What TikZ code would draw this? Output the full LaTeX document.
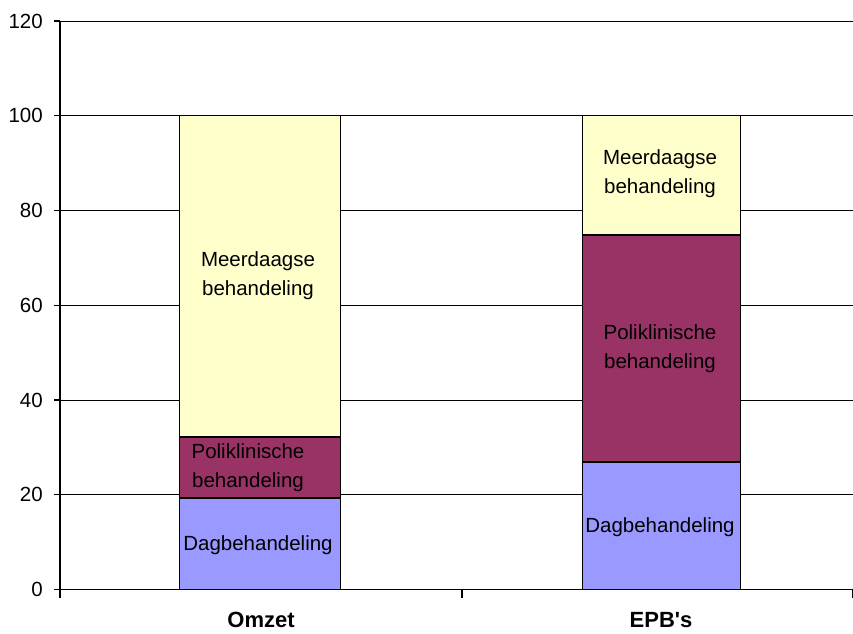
\documentclass[tikz,border=0pt]{standalone}
\usepackage{fontspec}
\setmainfont{Liberation Sans}
\begin{document}
\begin{tikzpicture}[x=1pt,y=1pt,
  grid/.style={black, line width=0.9pt},
  axisline/.style={black, line width=1.1pt},
  seg/.style={draw=black, line width=0.9pt},
  sep/.style={black, line width=2.2pt},
  ticklab/.style={anchor=east, font=\fontsize{20.5}{22}\selectfont, inner sep=0pt},
  barlab/.style={align=center, font=\fontsize{20.5}{29}\selectfont, inner sep=0pt},
  catlab/.style={anchor=base, font=\bfseries\fontsize{22}{24}\selectfont, inner sep=0pt}]
\definecolor{dagc}{HTML}{9999FF}
\definecolor{polic}{HTML}{993366}
\definecolor{meerc}{HTML}{FFFFCC}
\useasboundingbox (0,0) rectangle (853,633);
\begin{scope}[yshift=43.5pt, y=4.7375pt]
  % gridlines
  \foreach \v in {20,40,...,120} { \draw[grid] (60,\v) -- (853,\v); }
  % Omzet bar
  \fill[dagc]  (179,0) rectangle (340,19.3);
  \fill[polic] (179,19.3) rectangle (340,32.2);
  \fill[meerc] (179,32.2) rectangle (340,100);
  \draw[seg] (179,0) rectangle (340,100);
  \draw[sep] (179,19.3) -- (340,19.3);
  \draw[sep] (179,32.2) -- (340,32.2);
  % EPB bar
  \fill[dagc]  (582,0) rectangle (740,26.9);
  \fill[polic] (582,26.9) rectangle (740,74.8);
  \fill[meerc] (582,74.8) rectangle (740,100);
  \draw[seg] (582,0) rectangle (740,100);
  \draw[sep] (582,26.9) -- (740,26.9);
  \draw[sep] (582,74.8) -- (740,74.8);
  % axes
  \draw[axisline] (60,0) -- (60,120);
  \draw[axisline] (60,0) -- (853,0);
  \foreach \v in {0,20,...,120} {
    \draw[axisline] (54,\v) -- (60,\v);
    \node[ticklab] (t\v) at (43,\v) {\v};
  }
  \foreach \xx in {60,462,852.5} { \draw[axisline] (\xx,0) -- (\xx,-1.7); }
\end{scope}
% bar labels (y = 633 - pixel)
\node[barlab] (om) at (258,357) {Meerdaagse\\behandeling};
\node[barlab] (op) at (248,165) {Poliklinische\\behandeling};
\node[barlab] (od) at (258,88) {Dagbehandeling};
\node[barlab] (em) at (660,459) {Meerdaagse\\behandeling};
\node[barlab] (ep) at (660,284.5) {Poliklinische\\behandeling};
\node[barlab] (ed) at (660,106) {Dagbehandeling};
% category labels
\node[catlab] (c1) at (261,5.5) {Omzet};
\node[catlab] (c2) at (661,5.5) {EPB\textquotesingle s};
\end{tikzpicture}
\end{document}
